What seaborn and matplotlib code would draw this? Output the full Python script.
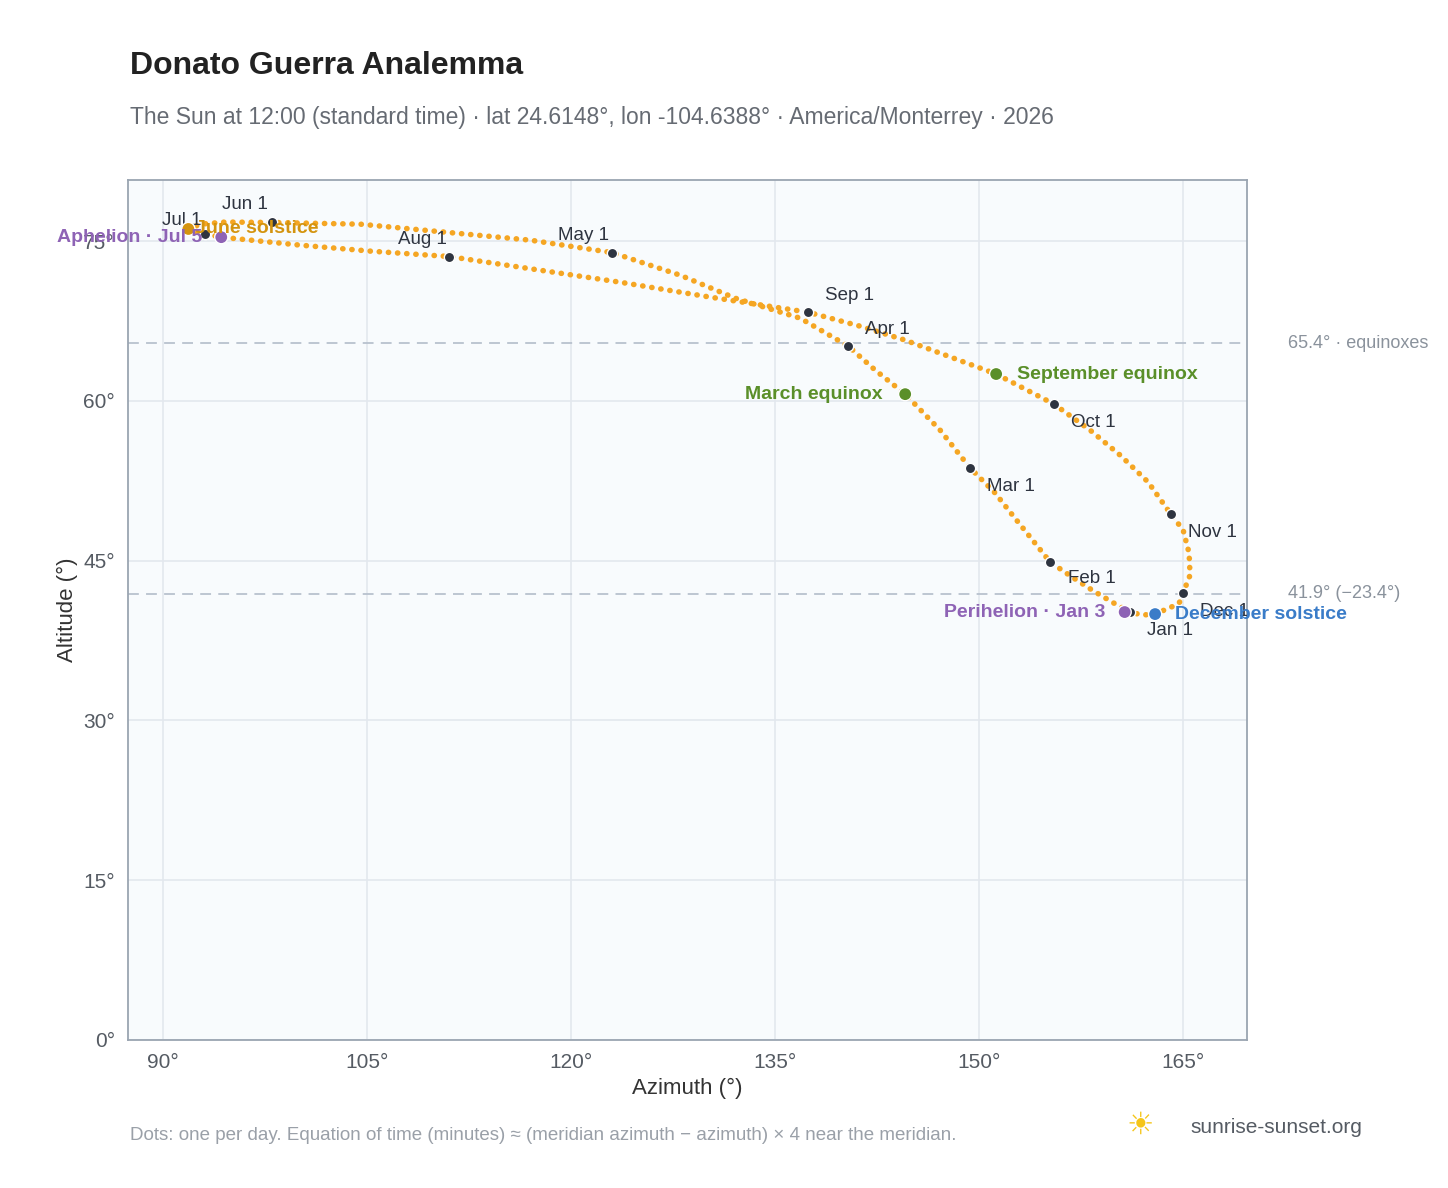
import matplotlib
matplotlib.use("Agg")
import matplotlib.pyplot as plt
import seaborn as sns

# analemma path (azimuth, altitude in degrees), about weekly
path_az = [161.10, 159.78, 158.31, 156.84, 155.22, 153.75, 152.28, 151.18, 149.34, 147.13,
           144.56, 142.35, 140.37, 136.84, 132.06, 128.01, 123.01, 116.99, 110.74, 104.49,
           98.01, 94.56, 92.72, 91.84, 92.21, 93.09, 94.26, 100.07, 105.22, 111.03,
           123.60, 130.22, 137.43, 141.25, 144.56, 151.25, 155.51, 158.16, 160.37, 162.43,
           164.10, 165.00, 165.44, 165.51, 165.00, 164.85, 164.63, 162.94, 161.99, 161.10]
path_alt = [40.18, 41.11, 42.24, 43.46, 44.88, 47.22, 49.56, 51.35, 53.70, 57.26,
            60.64, 62.90, 65.15, 67.77, 69.65, 71.81, 73.93, 75.10, 75.85, 76.60,
            76.76, 76.80, 76.60, 76.15, 75.94, 75.68, 75.38, 74.63, 74.07, 73.56,
            71.15, 69.75, 68.33, 67.02, 65.71, 62.53, 59.70, 57.26, 54.91, 52.38,
            49.37, 47.89, 45.71, 43.65, 41.97, 41.30, 40.93, 39.99, 39.90, 40.18]

months = ["Jan 1", "Feb 1", "Mar 1", "Apr 1", "May 1", "Jun 1",
          "Jul 1", "Aug 1", "Sep 1", "Oct 1", "Nov 1", "Dec 1"]
month_az = [161.10, 155.22, 149.34, 140.37, 123.01, 98.01, 93.09, 111.03, 137.43, 155.51, 164.10, 165.00]
month_alt = [40.18, 44.88, 53.70, 65.15, 73.93, 76.76, 75.68, 73.56, 68.33, 59.70, 49.37, 41.97]

events = ["March equinox", "September equinox", "June solstice", "December solstice",
          "Perihelion · Jan 3", "Aphelion · Jul 5"]
event_az = [144.56, 151.25, 91.84, 162.94, 160.70, 94.26]
event_alt = [60.64, 62.53, 76.15, 39.99, 40.18, 75.38]

equinox_alt = 65.4
solstice_alt = 41.9

orange = "#f5a623"
green = "#5a8f29"
gold = "#d4940f"
blue = "#3a7cc8"
purple = "#8e63b5"
event_colors = [green, green, gold, blue, purple, purple]
# label offsets in points and alignment
event_off = [(-16, 0, "right"), (15, 0, "left"), (5, 0, "left"), (14, 0, "left"),
             (-14, 0, "right"), (-14, 0, "right")]
month_off = [(12, -13), (13, -12), (12, -13), (12, 12), (-2, 12), (-3, 13),
             (-3, 10), (-2, 12), (12, 12), (12, -13), (12, -13), (12, -13)]

sns.set_theme(style="whitegrid")
plt.rcParams["font.family"] = ["Liberation Sans", "DejaVu Sans"]

fig = plt.figure(figsize=(14.48, 11.88), dpi=100)
ax = fig.add_axes([0.0884, 0.1246, 0.7728, 0.7239])
ax.set_facecolor("#f8fbfd")

ax.plot(path_az, path_alt, color=orange, linewidth=4, linestyle=(0, (0.05, 1.6)),
        dash_capstyle="round", solid_joinstyle="round", zorder=3)

for yv in (equinox_alt, solstice_alt):
    ax.axhline(yv, color="#b8c2ce", linestyle=(0, (6, 4)), linewidth=1.3, zorder=1)
ax.text(1.037, equinox_alt, f"{equinox_alt}° · equinoxes", transform=ax.get_yaxis_transform(),
        va="center", fontsize=13, color="#8a929c")
ax.text(1.037, solstice_alt, f"{solstice_alt}° (−23.4°)", transform=ax.get_yaxis_transform(),
        va="center", fontsize=13, color="#8a929c")

sns.scatterplot(x=month_az, y=month_alt, ax=ax, color="#2e3440", s=55, edgecolor="white",
                linewidth=1, zorder=5)
for m, x, y, (dx, dy) in zip(months, month_az, month_alt, month_off):
    ha = "left" if dx > 0 else "right"
    ax.annotate(m, (x, y), xytext=(dx, dy), textcoords="offset points", ha=ha, va="center",
                fontsize=13.5, color="#2e3440", zorder=6)

sns.scatterplot(x=event_az, y=event_alt, ax=ax, hue=events, palette=event_colors, s=90,
                edgecolor="white", linewidth=1, zorder=7, legend=False)
for e, x, y, c, (dx, dy, ha) in zip(events, event_az, event_alt, event_colors, event_off):
    ax.annotate(e, (x, y), xytext=(dx, dy), textcoords="offset points", ha=ha, va="center",
                fontsize=14, color=c, fontweight="bold", zorder=8)

ax.set_xlim(87.4, 169.7)
ax.set_ylim(0, 80.75)
ax.set_xticks(range(90, 166, 15))
ax.set_yticks(range(0, 76, 15))
ax.set_xticklabels([f"{v}°" for v in range(90, 166, 15)])
ax.set_yticklabels([f"{v}°" for v in range(0, 76, 15)])
ax.tick_params(labelsize=15, colors="#555b63")
ax.grid(color="#e3e8ee", linewidth=1.2)
for s in ax.spines.values():
    s.set_color("#9aa5b1")
    s.set_linewidth(1.3)
ax.set_xlabel("Azimuth (°)", fontsize=16, color="#333")
ax.set_ylabel("Altitude (°)", fontsize=16, color="#333")

fig.text(0.0895, 0.938, "Donato Guerra Analemma", fontsize=23, fontweight="bold", color="#222")
fig.text(0.0895, 0.896, "The Sun at 12:00 (standard time) · lat 24.6148°, lon -104.6388° · "
         "America/Monterrey · 2026", fontsize=16.5, color="#666b73")
fig.text(0.0895, 0.040, "Dots: one per day. Equation of time (minutes) ≈ (meridian azimuth − azimuth)"
         " × 4 near the meridian.", fontsize=13.5, color="#9aa0a8")
fig.text(0.822, 0.046, "sunrise-sunset.org", fontsize=15, color="#555b63")
fig.text(0.778, 0.046, "☀", fontsize=22, color="#f5c518", family=["DejaVu Sans"])

fig.savefig("out.png", dpi=100)
